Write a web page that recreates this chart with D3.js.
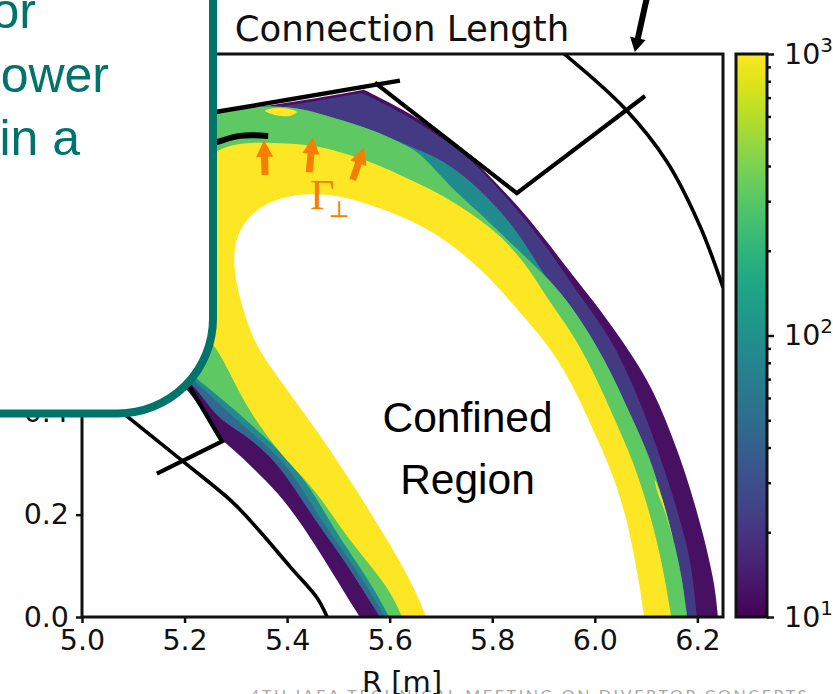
<!DOCTYPE html>
<meta charset="UTF-8">
<script src="https://d3js.org/d3.v7.min.js"></script>
<style>
 html, body { margin:0; padding:0; background:#fff; }
 svg { display:block; overflow:hidden; }
 text { font-family:"DejaVu Sans"; fill:#111; }
 .tick line { stroke:#111; stroke-width:2.5; }
</style>
<svg id="chart" width="833" height="694"></svg>

<script>
 // ticks
 var rTicks = [5.0, 5.2, 5.4, 5.6, 5.8, 6.0, 6.2];
 var zTicks = [0.0, 0.2, 0.4];
 var lcMajor = [10, 100, 1000];
 var lcMinor = [20, 30, 40, 50, 60, 70, 80, 90, 200, 300, 400, 500, 600, 700, 800, 900];

 // connection length [m] of each band, outer to inner
 var lcDark = 12, lcIndigo = 22, lcBlue = 48, lcTeal = 90, lcGreen = 320, lcYellow = 1000;

 // band edges, [R, Z] in metres. right leg -> top -> left leg
 // a point given twice keeps its corner sharp under the basis curve
 var hiddenDark = [[5.133,.952],[5.055,.756],[5.094,.561]];
 var hiddenInner = [[5.137,.948],[5.060,.758],[5.099,.562]];
 var darkEdge = [[6.240,0],[6.234,.066],[6.211,.164],[6.180,.274],[6.139,.385],[6.104,.463],[6.049,.547],[5.996,.619],
		 [5.938,.692],[5.874,.776],[5.809,.848],[5.743,.912],[5.692,.948],[5.640,.985],[5.550,1.030],[5.550,1.030],[5.550,1.030],[5.425,1.008],
		 [5.263,.985]].concat(hiddenDark,
		 [[5.207,.449],[5.273,.346],[5.273,.346],[5.304,.320],[5.357,.268],[5.394,.229],[5.450,.150],[5.517,.039],[5.542,0]]);
 var indigoRight = [[6.199,0],[6.192,.072],[6.180,.145],[6.141,.274],[6.102,.385],[6.073,.457],[6.030,.547],[5.977,.619],
		    [5.928,.692],[5.866,.776],[5.803,.848],[5.739,.912],[5.688,.944],[5.636,.979],[5.546,1.024],[5.546,1.024],[5.425,1.002],
		    [5.263,.979]].concat(hiddenInner);
 var blueLeft = [[5.226,.449],[5.259,.391],[5.312,.360],[5.371,.313],[5.417,.248],[5.458,.184],[5.507,.117],[5.548,.053],[5.581,0]];
 var tealLeft = [[5.240,.444],[5.285,.399],[5.332,.360],[5.396,.301],[5.431,.248],[5.470,.184],[5.517,.117],[5.560,.053],[5.591,0]];
 var greenLeft = [[5.246,.449],[5.304,.399],[5.357,.352],[5.402,.307],[5.449,.248],[5.484,.184],[5.528,.117],[5.571,.053],[5.599,0]];
 var greenRight = [[6.180,0],[6.170,.078],[6.153,.156],[6.113,.301],[6.074,.385],[6.030,.483],[5.985,.561],[5.946,.619],[5.903,.668]];
 var greenMid = [[5.829,.737],[5.770,.795],[5.718,.840],[5.667,.899]];
 var tealMid = [[5.899,.672],[5.848,.756],[5.796,.815],[5.743,.864],[5.692,.899]];
 var sharedTop = [[5.640,.918],[5.569,.952],[5.491,.975],[5.425,.995],[5.357,1.0],[5.263,.987]].concat(hiddenInner);
 var yellowEdge = [[6.149,0],[6.133,.098],[6.108,.203],[6.074,.307],[6.039,.385],[5.996,.483],[5.952,.561],[5.909,.619],
		   [5.874,.678],[5.821,.742],[5.757,.791],[5.684,.834],[5.653,.848],[5.589,.879],[5.523,.903],[5.458,.922],
		   [5.361,.928],[5.263,.926],[5.172,.834],[5.152,.658],[5.201,.580],[5.255,.541],[5.285,.483],[5.324,.404],
		   [5.390,.313],[5.456,.248],[5.497,.184],[5.548,.117],[5.601,.053],[5.624,0]];
 var coreEdge = [[6.096,0],[6.088,.059],[6.063,.195],[6.030,.293],[5.991,.379],[5.952,.463],[5.907,.535],[5.854,.594],
		 [5.809,.649],[5.743,.711],[5.679,.756],[5.628,.780],[5.556,.809],[5.478,.828],[5.406,.825],[5.347,.805],
		 [5.302,.756],[5.293,.692],[5.308,.619],[5.333,.541],[5.371,.483],[5.454,.371],[5.536,.248],[5.640,.078],[5.671,0]];

 // the two small hot spots
 var blobTop = [[5.357,.989],[5.386,.995],[5.419,.987],[5.406,.979],[5.376,.981]];
 var blobRight = [[6.117,.268],[6.131,.232],[6.153,.150],[6.137,.205],[6.122,.245]];

 // walls
 var wallTop = [[5.152,.967],[5.263,.987],[5.620,1.048]];
 var wallBaffle = [[5.571,1.044],[5.848,.828],[6.098,1.018]];
 var wallLower = [[5.207,.455],[5.273,.343],[5.146,.280]];
 var vesselRight = [[5.938,1.102],[6.059,.993],[6.141,.889],[6.205,.764],[6.250,.644]];
 var vesselLeft = [[5.035,.435],[5.088,.392],[5.197,.304],[5.294,.224],[5.347,.167],[5.406,.098],[5.458,.038],[5.478,0]];
 var shelf = [[5.230,.920],[5.263,.928],[5.308,.940],[5.363,.940]];

 // [tail, tip]
 var fluxArrows = [[[5.357,.864],[5.355,.932]], [[5.443,.869],[5.450,.938]], [[5.528,.854],[5.550,.918]]];
 var pointerArrow = [[6.102,1.212],[6.078,1.104]];

 var orange = "#f57f00", teal = "#00736a";

 var x = d3.scaleLinear().domain([5, 6.25]).range([82, 723]);
 var y = d3.scaleLinear().domain([0, 1.1]).range([617, 54]);
 var cy = d3.scaleLog().domain([10, 1000]).range([617, 54]);
 var color = d3.scaleSequentialLog(d3.interpolateViridis).domain([10, 1000]);

 var svg = d3.select("#chart");

 var rounded = d3.line().x(function (d){return x(d[0]);}).y(function (d){return y(d[1]);})
		 .curve(d3.curveBasis);
 var smooth = d3.line().x(function (d){return x(d[0]);}).y(function (d){return y(d[1]);})
		.curve(d3.curveCatmullRom.alpha(0.5));
 var straight = d3.line().x(function (d){return x(d[0]);}).y(function (d){return y(d[1]);});
 var blob = d3.line().x(function (d){return x(d[0]);}).y(function (d){return y(d[1]);})
	      .curve(d3.curveCatmullRomClosed.alpha(0.5));

 var defs = svg.append("defs");
 defs.append("clipPath").attr("id","axes_clip").append("rect")
     .attr("x",x(5)).attr("y",y(1.1)).attr("width",x(6.25)-x(5)).attr("height",y(0)-y(1.1));
 var grad = defs.append("linearGradient").attr("id","viridis")
		.attr("x1",0).attr("x2",0).attr("y1",1).attr("y2",0);
 d3.range(0, 21).forEach(function (i) {
     grad.append("stop").attr("offset",(i*5)+"%").attr("stop-color",d3.interpolateViridis(i/20));
 });

 // footer goes first, the axis label sits on top of it
 svg.append("text").attr("x",250).attr("y",701)
    .style("font-family","Lato").style("font-size","16px").style("letter-spacing","2.65px").style("fill","#a8a8a8")
    .text("4TH IAEA TECHNICAL MEETING ON DIVERTOR CONCEPTS");

 // bands, painted outer to inner
 var bands = [
     [darkEdge, lcDark],
     [indigoRight.concat(blueLeft), lcIndigo],
     [greenRight.concat(tealMid, sharedTop, blueLeft), lcBlue],
     [greenRight.concat(tealMid, sharedTop, tealLeft), lcTeal],
     [greenRight.concat(greenMid, sharedTop, greenLeft), lcGreen],
     [yellowEdge, lcYellow]
 ];
 var plot = svg.append("g").attr("clip-path","url(#axes_clip)");
 plot.selectAll("path.band").data(bands).enter().append("path").attr("class","band")
     .attr("d",function (d){return rounded(d[0])+"Z";})
     .attr("fill",function (d){return color(d[1]);});
 plot.append("path").attr("d",rounded(coreEdge)+"Z").attr("fill","#fff");
 plot.selectAll("path.spot").data([blobTop, blobRight]).enter().append("path").attr("class","spot")
     .attr("d",blob).attr("fill",color(lcYellow));

 // walls
 function wall(points, width, gen) {
     plot.append("path").attr("d",(gen || straight)(points)).attr("fill","none")
	 .attr("stroke","#000").attr("stroke-width",width);
 }
 wall(wallTop, 4.5);
 wall(wallBaffle, 4.2);
 wall(wallLower, 4.2);
 wall(vesselRight, 3.6, smooth);
 wall(vesselLeft, 3.6, smooth);
 wall(shelf, 6, smooth);

 // arrow as a filled polygon, sizes in px
 function arrow(pair, stem, headW, headL, fill) {
     var x0 = x(pair[0][0]), y0 = y(pair[0][1]), x1 = x(pair[1][0]), y1 = y(pair[1][1]);
     var len = Math.hypot(x1-x0, y1-y0), ux = (x1-x0)/len, uy = (y1-y0)/len;
     var nx = -uy, ny = ux, bx = x1-ux*headL, by = y1-uy*headL;
     var pts = [[x0+nx*stem/2,y0+ny*stem/2],[bx+nx*stem/2,by+ny*stem/2],[bx+nx*headW/2,by+ny*headW/2],[x1,y1],
		[bx-nx*headW/2,by-ny*headW/2],[bx-nx*stem/2,by-ny*stem/2],[x0-nx*stem/2,y0-ny*stem/2]];
     svg.append("polygon").attr("points",pts.join(" ")).attr("fill",fill);
 }
 fluxArrows.forEach(function (a){ arrow(a, 7, 17, 17, orange); });

 // frame and axes
 svg.append("rect").attr("x",x(5)).attr("y",y(1.1)).attr("width",x(6.25)-x(5)).attr("height",y(0)-y(1.1))
    .attr("fill","none").attr("stroke","#111").attr("stroke-width",3);
 arrow(pointerArrow, 6, 16, 14, "#000");

 var xAxis = svg.append("g").attr("transform","translate(0,617)")
		.call(d3.axisBottom(x).tickValues(rTicks).tickSize(6).tickPadding(7).tickFormat(d3.format(".1f")));
 var yAxis = svg.append("g").attr("transform","translate(82,0)")
		.call(d3.axisLeft(y).tickValues(zTicks).tickSize(6).tickPadding(7).tickFormat(d3.format(".1f")));
 [xAxis, yAxis].forEach(function (a) {
     a.select(".domain").remove();
     a.selectAll("text").style("font-size","28.5px").style("font-family","DejaVu Sans").attr("fill","#111");
 });

 svg.append("text").attr("x",402).attr("y",692).attr("text-anchor","middle").style("font-size","29px").text("R [m]");
 svg.append("text").attr("x",402).attr("y",41).attr("text-anchor","middle").style("font-size","35.5px").text("Connection Length");

 // labels inside
 svg.append("g").selectAll("text").data(["Confined","Region"]).enter().append("text")
    .attr("x",467.5).attr("y",function (d,i){return 432+i*62;}).attr("text-anchor","middle")
    .style("font-family","Liberation Sans").style("font-size","42.5px").style("fill","#000")
    .text(function (d){return d;});

 var flux = svg.append("text").attr("x",x(5.445)).attr("y",y(.797))
	       .style("font-family","Liberation Serif").style("font-size","42px").style("fill",orange);
 flux.append("tspan").text("Γ");
 flux.append("tspan").attr("dx",-6).attr("dy",8).style("font-size","23px").style("font-family","DejaVu Serif").text("⊥");

 // colorbar
 svg.append("rect").attr("x",736).attr("y",54).attr("width",31).attr("height",563)
    .attr("fill","url(#viridis)").attr("stroke","#111").attr("stroke-width",3);
 svg.append("g").attr("transform","translate(767,0)")
    .call(d3.axisRight(cy).tickValues(lcMinor).tickSize(4).tickFormat(""))
    .select(".domain").remove();
 var cbAxis = svg.append("g").attr("transform","translate(767,0)")
		 .call(d3.axisRight(cy).tickValues(lcMajor).tickSize(7).tickPadding(10));
 cbAxis.select(".domain").remove();
 cbAxis.selectAll("text").each(function (d) {
     var t = d3.select(this).text("").style("font-size","28.5px").style("font-family","DejaVu Sans").attr("fill","#111");
     t.append("tspan").text("10");
     t.append("tspan").attr("dy",-12).style("font-size","20px").text(Math.round(Math.log10(d)));
 });

 // slide callout covering the left of the plot
 svg.append("rect").attr("x",-200).attr("y",-200).attr("width",413).attr("height",613.5).attr("rx",95)
    .attr("fill","#fff").attr("stroke",teal).attr("stroke-width",8);
 svg.append("g").selectAll("text").data([["or",36,28],["ower",109,92],["in a",80,155]]).enter().append("text")
    .attr("x",function (d){return d[1];}).attr("y",function (d){return d[2];}).attr("text-anchor","end")
    .style("font-family","Liberation Sans").style("font-size","50px").style("fill",teal)
    .text(function (d){return d[0];});
</script>
